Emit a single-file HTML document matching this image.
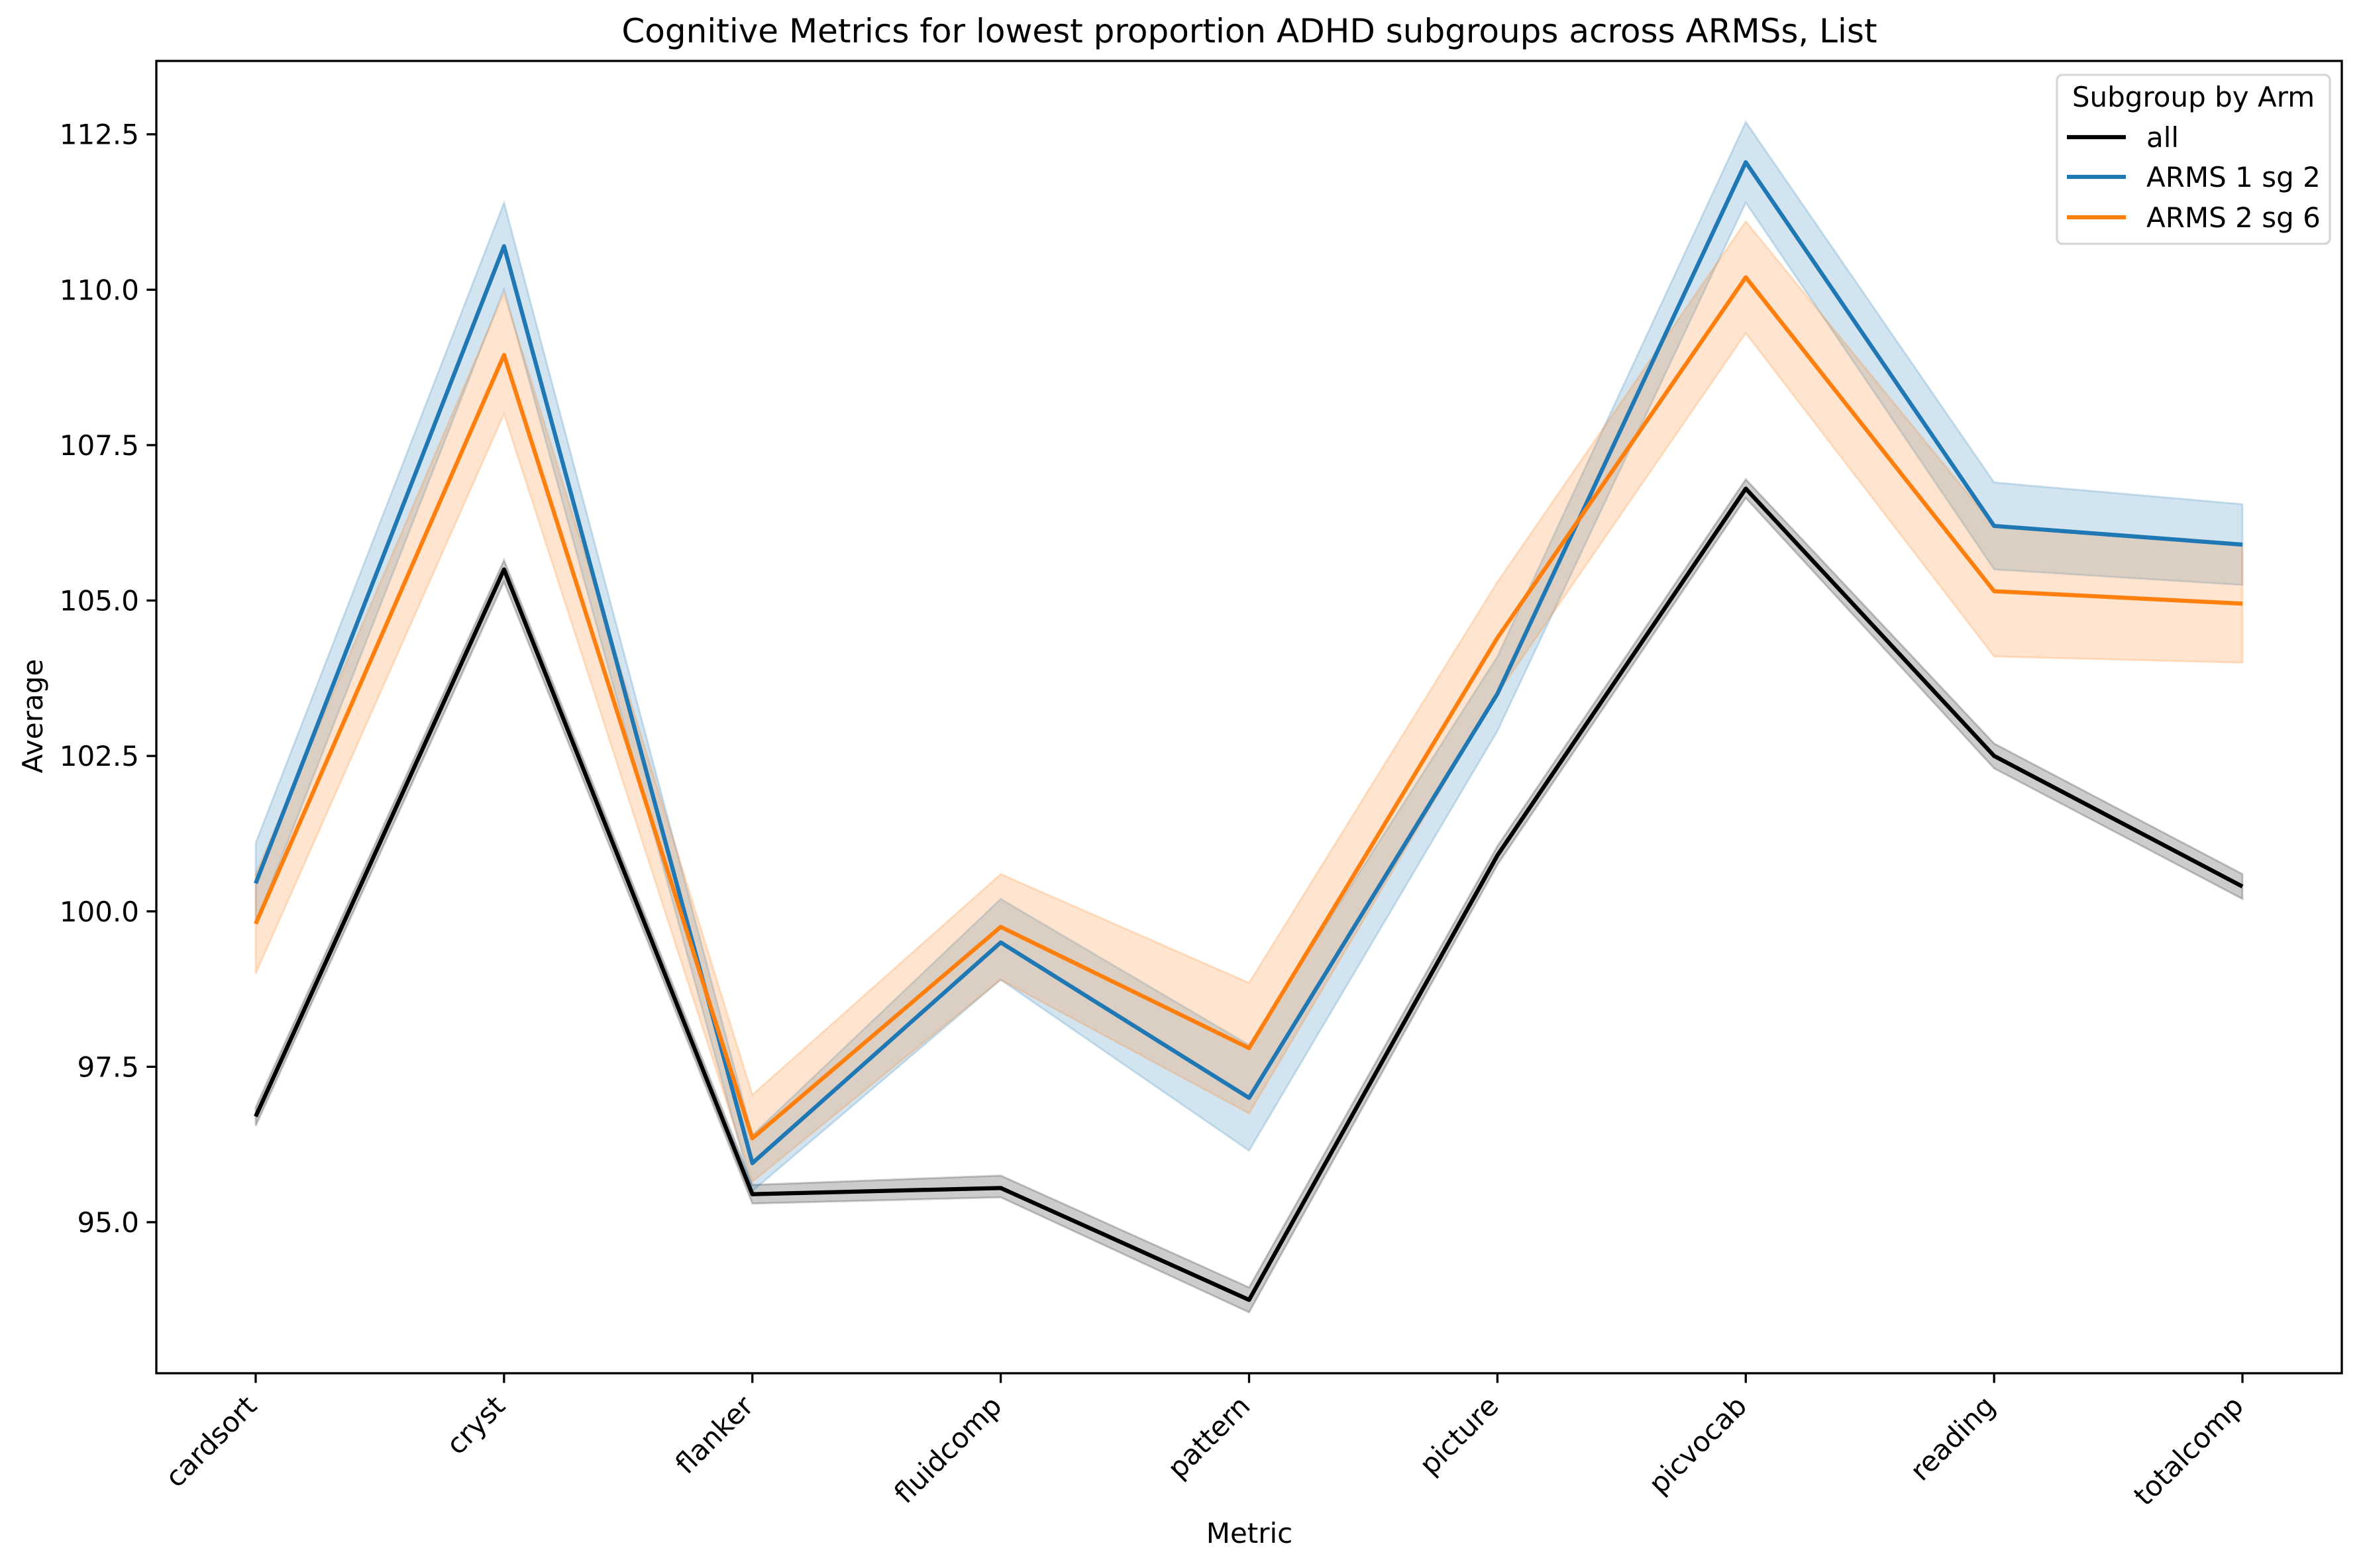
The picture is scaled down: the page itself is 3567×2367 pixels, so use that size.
<!DOCTYPE html>
<html><head><meta charset="utf-8"><style>
html,body{margin:0;padding:0;background:#fff}
svg{display:block;font-family:"DejaVu Sans","Liberation Sans",sans-serif}
</style></head><body>
<svg id="chart" width="3567" height="2367" viewBox="0 0 3567 2367" xmlns="http://www.w3.org/2000/svg">
<rect width="3567" height="2367" fill="#fff"/>
<text x="1886" y="64" font-size="50" text-anchor="middle">Cognitive Metrics for lowest proportion ADHD subgroups across ARMSs, List</text>
<g id="plot"></g>
<g id="axes"></g>
<text x="1886" y="2329" font-size="42" text-anchor="middle">Metric</text>
<text x="64" y="1081" font-size="42" text-anchor="middle" transform="rotate(-90 64 1081)">Average</text>
<g>
<rect x="3105" y="113" width="412" height="255" rx="8" fill="#fff" fill-opacity="0.8" stroke="#d6d6d6" stroke-width="3.3"/>
<text x="3311" y="161" font-size="42" text-anchor="middle">Subgroup by Arm</text>
<g><line x1="3120" y1="207" x2="3209" y2="207" stroke="#000" stroke-width="6.25"/><text x="3240" y="222" font-size="42">all</text></g>
<g><line x1="3120" y1="267" x2="3209" y2="267" stroke="#1f77b4" stroke-width="6.25"/><text x="3240" y="282" font-size="42">ARMS 1 sg 2</text></g>
<g><line x1="3120" y1="328" x2="3209" y2="328" stroke="#ff7f0e" stroke-width="6.25"/><text x="3240" y="343" font-size="42">ARMS 2 sg 6</text></g>
</g>
</svg>
<script>
const categories = ["cardsort","cryst","flanker","fluidcomp","pattern","picture","picvocab","reading","totalcomp"];
const allMean = [96.7,105.5,95.45,95.55,93.75,100.9,106.8,102.5,100.4];
const allLow  = [96.55,105.3,95.3,95.4,93.55,100.75,106.65,102.3,100.2];
const allHigh = [96.85,105.65,95.6,95.75,93.95,101.05,106.95,102.7,100.6];
const arms1Mean = [100.45,110.7,95.95,99.5,97.0,103.5,112.05,106.2,105.9];
const arms1Low  = [99.8,110.0,95.5,98.9,96.15,102.9,111.4,105.5,105.25];
const arms1High = [101.1,111.4,96.4,100.2,97.85,104.1,112.7,106.9,106.55];
const arms2Mean = [99.8,108.95,96.35,99.75,97.8,104.4,110.2,105.15,104.95];
const arms2Low  = [99.0,108.0,95.65,98.9,96.75,103.5,109.3,104.1,104.0];
const arms2High = [100.6,109.95,97.05,100.6,98.85,105.3,111.1,106.2,105.9];
const yTicks = [95.0,97.5,100.0,102.5,105.0,107.5,110.0,112.5];

const L=236,R=3535,T=92,B=2073;
const xMin=-0.4,xMax=8.4,yMin=92.57,yMax=113.68;
const x=i=>L+(i-xMin)/(xMax-xMin)*(R-L);
const y=v=>B-(v-yMin)/(yMax-yMin)*(B-T);
const NS="http://www.w3.org/2000/svg";
const plot=document.getElementById('plot');
const axes=document.getElementById('axes');
function mk(tag,attrs,parent){const e=document.createElementNS(NS,tag);for(const k in attrs)e.setAttribute(k,attrs[k]);parent.appendChild(e);return e;}

const series=[
 {name:'all',mean:allMean,lo:allLow,hi:allHigh,color:'#000000'},
 {name:'arms1-sg2',mean:arms1Mean,lo:arms1Low,hi:arms1High,color:'#1f77b4'},
 {name:'arms2-sg6',mean:arms2Mean,lo:arms2Low,hi:arms2High,color:'#ff7f0e'}
];
series.forEach(s=>{
  let pts=s.hi.map((v,i)=>x(i)+','+y(v));
  for(let i=s.lo.length-1;i>=0;i--)pts.push(x(i)+','+y(s.lo[i]));
  const b=mk('polygon',{points:pts.join(' '),fill:s.color,'fill-opacity':0.2,stroke:s.color,'stroke-opacity':0.2,'stroke-width':3},plot);
  
  
});
series.forEach(s=>{
  const l=mk('polyline',{points:s.mean.map((v,i)=>x(i)+','+y(v)).join(' '),fill:'none',stroke:s.color,'stroke-width':6.25,'stroke-linejoin':'round'},plot);
  
  
});
const frame=mk('rect',{x:L,y:T,width:R-L,height:B-T,fill:'none',stroke:'#000','stroke-width':3.3},axes);


yTicks.forEach(v=>{
  const g=mk('g',{},axes);
  
  
  mk('line',{x1:L-14.6,x2:L,y1:y(v),y2:y(v),stroke:'#000','stroke-width':3.3},g);
  const t=mk('text',{x:L-26,y:y(v)+15,'font-size':42,'text-anchor':'end'},g);
  t.textContent=v.toFixed(1);
});
categories.forEach((c,i)=>{
  const g=mk('g',{},axes);
  
  
  mk('line',{x1:x(i),x2:x(i),y1:B,y2:B+14.6,stroke:'#000','stroke-width':3.3},g);
  const ax=x(i)+4, ay=B+52;
  const t=mk('text',{x:ax,y:ay,'font-size':42,'text-anchor':'end',transform:`rotate(-45 ${ax} ${ay})`},g);
  t.textContent=c;
});
</script>
</body></html>
